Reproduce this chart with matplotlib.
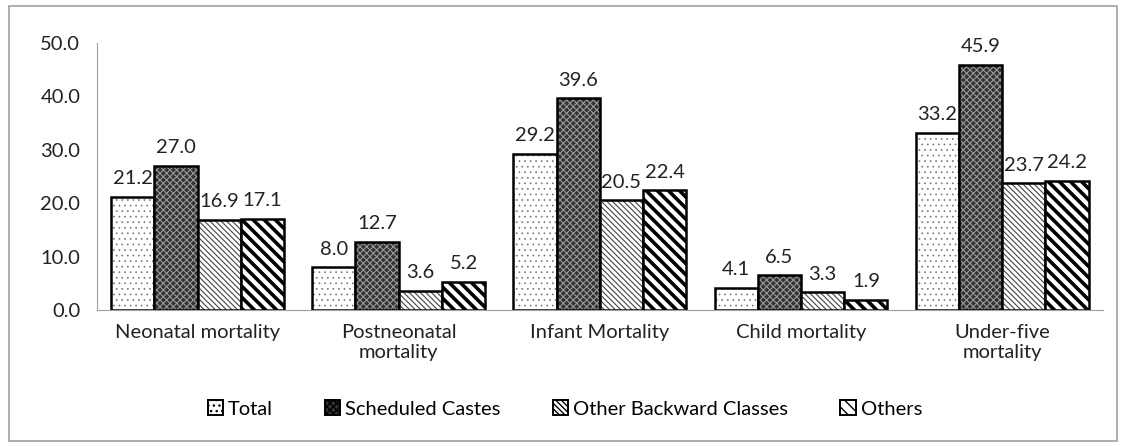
import numpy as np
import matplotlib
matplotlib.use("Agg")
import matplotlib.pyplot as plt
from matplotlib.patches import Rectangle, Patch

# ---- data ----
categories = ["Neonatal mortality", "Postneonatal\nmortality", "Infant Mortality",
              "Child mortality", "Under-five\nmortality"]
series_names = ["Total", "Scheduled Castes", "Other Backward Classes", "Others"]
total = [21.2, 8.0, 29.2, 4.1, 33.2]
scheduled_castes = [27.0, 12.7, 39.6, 6.5, 45.9]
other_backward = [16.9, 3.6, 20.5, 3.3, 23.7]
others = [17.1, 5.2, 22.4, 1.9, 24.2]
yticks = [0, 10, 20, 30, 40, 50]

# ---- styles: (facecolor, hatch, hatch colour, hatch linewidth) ----
STYLES = [
    ("white", "...", "#777777", 0.5),
    ("#333333", "xxxxx", "#999999", 0.8),
    ("white", "\\\\\\\\\\\\", "#444444", 0.8),
    ("white", "\\\\\\", "black", 2.6),
]

plt.rcParams["font.family"] = ["Lato", "DejaVu Sans"]
TXT = "#222222"
FS = 14.5

fig = plt.figure(figsize=(11.25, 4.46), dpi=100)
ax = fig.add_axes([0.0862, 0.305, 0.894, 0.599])

x = np.arange(len(categories))
width = 0.215
values = [total, scheduled_castes, other_backward, others]

for i, (vals, (fc, hatch, hc, hlw)) in enumerate(zip(values, STYLES)):
    pos = x + (i - 1.5) * width
    with plt.rc_context({"hatch.linewidth": hlw}):
        ax.bar(pos, vals, width, facecolor=fc, hatch=hatch, edgecolor=hc, linewidth=0)
    ax.bar(pos, vals, width, facecolor="none", edgecolor="black", linewidth=1.8)
    for px, v in zip(pos, vals):
        ax.annotate(f"{v:.1f}", (px, v), xytext=(0, 7), textcoords="offset points",
                    ha="center", va="bottom", fontsize=FS, color=TXT)

ax.set_xlim(-0.5, len(categories) - 0.5)
ax.set_ylim(0, 50)
ax.set_yticks(yticks)
ax.set_yticklabels([f"{t:.1f}" for t in yticks])
ax.set_xticks(x)
ax.set_xticklabels(categories, fontsize=FS, color=TXT, linespacing=1.25)
ax.tick_params(axis="y", labelsize=FS, colors=TXT, length=0, pad=12)
ax.tick_params(axis="x", length=0, pad=10)
for s in ["top", "right"]:
    ax.spines[s].set_visible(False)
ax.spines["left"].set_color("#a0a0a0")
ax.spines["bottom"].set_color("#a0a0a0")

handles = []
for fc, h, hc, hlw in STYLES:
    with plt.rc_context({"hatch.linewidth": min(hlw, 1.2)}):
        handles.append(Patch(facecolor=fc, hatch=h, edgecolor="black", linewidth=1.4))
fig.legend(handles, series_names, loc="center", bbox_to_anchor=(0.502, 0.083),
           ncol=4, frameon=False, fontsize=FS, handlelength=0.75, handleheight=0.75,
           columnspacing=2.6, handletextpad=0.25)

# outer chart border
fig.patches.append(Rectangle((0.008, 0.012), 0.985, 0.975, transform=fig.transFigure,
                             fill=False, edgecolor="#a0a0a0", linewidth=1.2))

fig.savefig("out.png", dpi=100)
